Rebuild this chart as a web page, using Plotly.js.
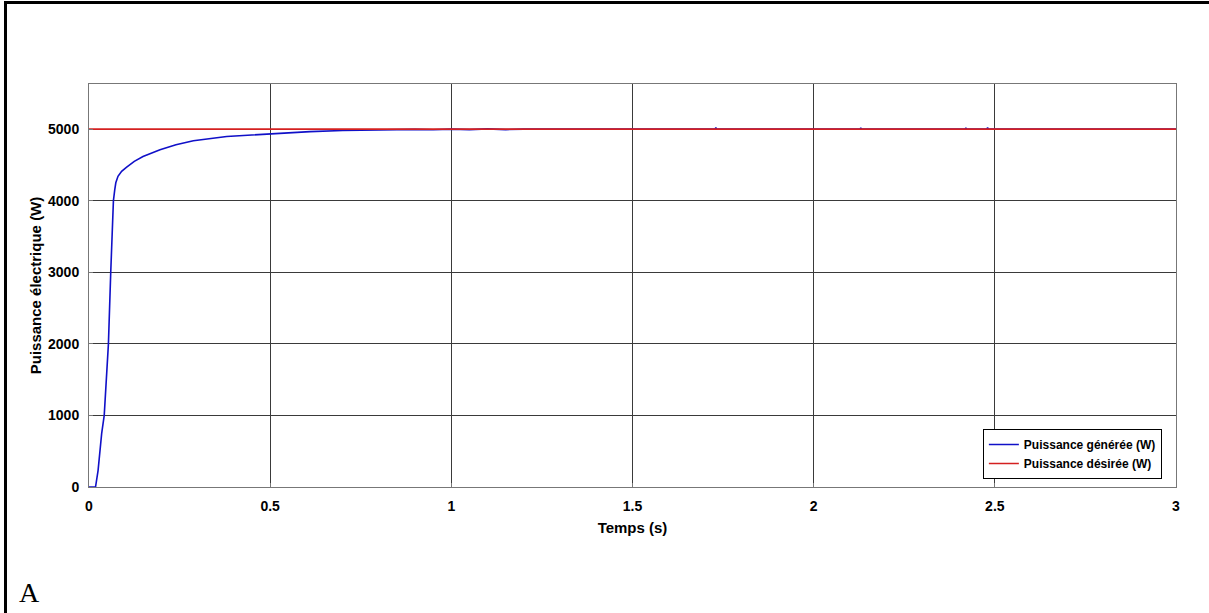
<!DOCTYPE html>
<html>
<head>
<meta charset="utf-8">
<script src="https://cdn.plot.ly/plotly-3.0.1.min.js"></script>
<style>
  html, body { margin: 0; padding: 0; background: #fff; }
  #wrap { position: relative; width: 1209px; height: 613px; overflow: hidden; }
  #chart { position: absolute; left: 0; top: 0; width: 1209px; height: 613px; }
  .bt { position: absolute; left: 4px; top: 1px; width: 1205px; height: 3px; background: #000; }
  .bl { position: absolute; left: 4px; top: 1px; width: 3px; height: 612px; background: #000; }
</style>
</head>
<body>
<div id="wrap">
  <div id="chart"></div>
  <div class="bt"></div>
  <div class="bl"></div>
</div>
<script>
// Time (s) and generated power (W)
const tGen = [0, 0.018, 0.025, 0.0295, 0.035, 0.042, 0.048, 0.0536, 0.060, 0.0674, 0.071, 0.074, 0.080, 0.090, 0.104, 0.125, 0.149, 0.196, 0.240, 0.288, 0.380, 0.500, 0.610, 0.700, 0.800, 0.850, 0.900, 0.950, 1.000, 1.050, 1.100, 1.150, 1.200, 1.500, 1.728, 1.730, 1.732, 2.000, 2.128, 2.130, 2.132, 2.418, 2.420, 2.422, 2.478, 2.480, 2.482, 3.000];
const pGen = [0, 0, 230, 520, 750, 1000, 1500, 2000, 3000, 4000, 4150, 4250, 4340, 4410, 4469, 4550, 4617, 4711, 4780, 4837, 4897, 4934, 4965, 4980, 4990, 4985, 4996, 4990, 5000, 4992, 5003, 4993, 5000, 5000, 5000, 5020, 5000, 5000, 5000, 5018, 5000, 5000, 5018, 5000, 5000, 5020, 5000, 5000];
// Desired power (W)
const tDes = [0, 3];
const pDes = [5000, 5000];
// Axis ticks
const xTicks = [0, 0.5, 1, 1.5, 2, 2.5, 3];
const xTickLabels = ['0', '0.5', '1', '1.5', '2', '2.5', '3'];
const yTicks = [0, 1000, 2000, 3000, 4000, 5000];
const yTickLabels = ['0', '1000', '2000', '3000', '4000', '5000'];

const FAM = 'Liberation Sans, Arial, sans-serif';
const tickFont = {family: FAM, size: 14, color: '#000', weight: 'bold'};
const titleFont = {family: FAM, size: 15, color: '#000', weight: 'bold'};

const traces = [
  {x: tGen, y: pGen, type: 'scatter', mode: 'lines', name: 'Puissance générée (W)',
   line: {color: '#1010c8', width: 1.6}},
  {x: tDes, y: pDes, type: 'scatter', mode: 'lines', name: 'Puissance désirée (W)',
   line: {color: '#d42020', width: 1.6}}
];

const layout = {
  width: 1209, height: 613,
  margin: {l: 89, r: 33, t: 84, b: 126},
  paper_bgcolor: 'rgba(0,0,0,0)',
  plot_bgcolor: '#fff',
  showlegend: true,
  xaxis: {
    range: [0, 3], tickvals: xTicks, ticktext: xTickLabels,
    showgrid: true, gridcolor: '#3a3a3a', gridwidth: 1,
    zeroline: false, showline: true, mirror: true, linecolor: '#777', linewidth: 1,
    ticks: 'inside', ticklen: 4, tickcolor: '#777',
    tickfont: tickFont, ticklabelstandoff: 6,
    title: {text: 'Temps (s)', font: titleFont, standoff: 9}
  },
  yaxis: {
    range: [0, 5630], tickvals: yTicks, ticktext: yTickLabels,
    showgrid: true, gridcolor: '#3a3a3a', gridwidth: 1,
    zeroline: false, showline: true, mirror: true, linecolor: '#777', linewidth: 1,
    ticks: 'inside', ticklen: 4, tickcolor: '#777',
    tickfont: tickFont, ticklabelstandoff: 6,
    title: {text: 'Puissance électrique (W)', font: titleFont, standoff: 2}
  },
  legend: {
    x: 0.987, y: 0.02, xanchor: 'right', yanchor: 'bottom',
    bgcolor: '#fff', bordercolor: '#000', borderwidth: 1,
    font: {family: FAM, size: 12, color: '#000', weight: 'bold'},
    tracegroupgap: 0, itemwidth: 30
  },
  annotations: [
    {text: 'A', xref: 'paper', yref: 'paper', x: -0.066, y: -0.262, xanchor: 'left', yanchor: 'middle',
     showarrow: false, font: {family: 'Liberation Serif, Times New Roman, serif', size: 28, color: '#000'}}
  ]
};

Plotly.newPlot('chart', traces, layout, {displayModeBar: false, staticPlot: true});
</script>
</body>
</html>
